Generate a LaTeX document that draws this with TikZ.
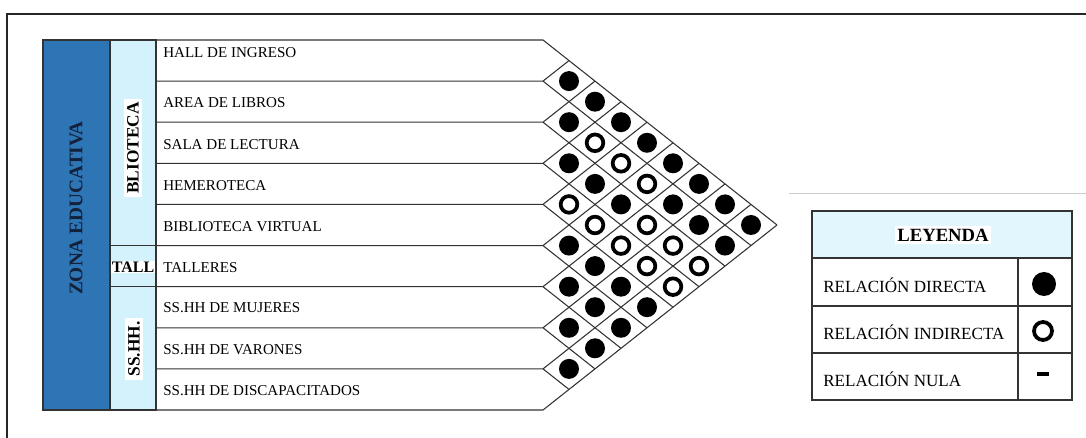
\documentclass[tikz,border=0pt]{standalone}
\usepackage{fontspec}
\setmainfont{Liberation Serif}
\definecolor{zonablue}{HTML}{2E75B6}
\definecolor{grupoblue}{HTML}{D4F2FC}
\definecolor{headblue}{HTML}{E2F6FD}
\definecolor{zonatext}{HTML}{14213A}
\begin{document}
\begin{tikzpicture}[x=0.75pt,y=-0.75pt,
  linea/.style={draw=black!80, line width=0.8pt},
  fila/.style={anchor=west, inner sep=0pt, font=\fontsize{11.3}{13}\selectfont},
  leyfila/.style={anchor=west, inner sep=0pt, font=\fontsize{12.8}{14}\selectfont},
  grupo/.style={fill=white, inner sep=2.5pt, font=\fontsize{13}{15}\selectfont\bfseries},
  directa/.style={circle, fill=black, minimum size=15pt, inner sep=0pt},
  indirecta/.style={circle, draw=black, line width=2.8pt, minimum size=12.5pt, inner sep=0pt}]
\useasboundingbox (0,0) rectangle (1086,438);

% marco
\draw[line width=1.6pt, black!85] (7,438) -- (7,14) -- (1086,14);
\draw[black!20, line width=0.6pt] (789,193) -- (1086,193);

% columnas de zona y grupos
\draw[linea, fill=zonablue] (43,40) rectangle (110,410);
\draw[linea, fill=grupoblue] (110,40) rectangle (156,410);
\node[rotate=90, text=zonatext, font=\fontsize{14.5}{16}\selectfont\bfseries] (zona) at (76,208) {ZONA EDUCATIVA};
\node[grupo, rotate=90] (biblio) at (133,148) {BLIOTECA};
\node[grupo, inner sep=0.5pt, font=\fontsize{12}{14}\selectfont\bfseries] (tall) at (133,267) {TALL};
\node[grupo, rotate=90] (sshh) at (134,349) {SS.HH.};
\draw[linea] (110,245.6) -- (156,245.6);
\draw[linea] (110,286.7) -- (156,286.7);
\draw[linea] (110,40) -- (110,410);

% filas y rejilla
\draw[linea] (156,40) -- (543,40) -- (777,225);
\draw[linea] (156,81.1) -- (543,81.1) -- (751,245.6) (543,81.1) -- (569,60.6);
\draw[linea] (156,122.2) -- (543,122.2) -- (725,266.1) (543,122.2) -- (595,81.1);
\draw[linea] (156,163.3) -- (543,163.3) -- (699,286.7) (543,163.3) -- (621,101.7);
\draw[linea] (156,204.4) -- (543,204.4) -- (673,307.2) (543,204.4) -- (647,122.2);
\draw[linea] (156,245.6) -- (543,245.6) -- (647,327.8) (543,245.6) -- (673,142.8);
\draw[linea] (156,286.7) -- (543,286.7) -- (621,348.3) (543,286.7) -- (699,163.3);
\draw[linea] (156,327.8) -- (543,327.8) -- (595,368.9) (543,327.8) -- (725,183.9);
\draw[linea] (156,368.9) -- (543,368.9) -- (569,389.4) (543,368.9) -- (751,204.4);
\draw[linea] (156,410) -- (543,410) -- (777,225);
\draw[linea] (156,40) -- (156,410);

\node[fila] (hall) at (163,53) {HALL DE INGRESO};
\node[fila] (libros) at (163,103) {AREA DE LIBROS};
\node[fila] (lectura) at (163,145) {SALA DE LECTURA};
\node[fila] (hemeroteca) at (163,186) {HEMEROTECA};
\node[fila] (virtual) at (163,227) {BIBLIOTECA VIRTUAL};
\node[fila] (talleres) at (163,268) {TALLERES};
\node[fila] (mujeres) at (163,308) {SS.HH DE MUJERES};
\node[fila] (varones) at (163,350) {SS.HH DE VARONES};
\node[fila] (discap) at (163,391) {SS.HH DE DISCAPACITADOS};

% relaciones
\node[directa] (c12) at (569,81.1) {};
\node[directa] (c13) at (595,101.7) {};
\node[directa] (c14) at (621,122.2) {};
\node[directa] (c15) at (647,142.8) {};
\node[directa] (c16) at (673,163.3) {};
\node[directa] (c17) at (699,183.9) {};
\node[directa] (c18) at (725,204.4) {};
\node[directa] (c19) at (751,225) {};
\node[directa] (c23) at (569,122.2) {};
\node[indirecta] (c24) at (595,142.8) {};
\node[indirecta] (c25) at (621,163.3) {};
\node[indirecta] (c26) at (647,183.9) {};
\node[directa] (c27) at (673,204.4) {};
\node[directa] (c28) at (699,225) {};
\node[directa] (c29) at (725,245.6) {};
\node[directa] (c34) at (569,163.3) {};
\node[directa] (c35) at (595,183.9) {};
\node[directa] (c36) at (621,204.4) {};
\node[indirecta] (c37) at (647,225) {};
\node[indirecta] (c38) at (673,245.6) {};
\node[indirecta] (c39) at (699,266.1) {};
\node[indirecta] (c45) at (569,204.4) {};
\node[indirecta] (c46) at (595,225) {};
\node[indirecta] (c47) at (621,245.6) {};
\node[indirecta] (c48) at (647,266.1) {};
\node[indirecta] (c49) at (673,286.7) {};
\node[directa] (c56) at (569,245.6) {};
\node[directa] (c57) at (595,266.1) {};
\node[directa] (c58) at (621,286.7) {};
\node[directa] (c59) at (647,307.2) {};
\node[directa] (c67) at (569,286.7) {};
\node[directa] (c68) at (595,307.2) {};
\node[directa] (c69) at (621,327.8) {};
\node[directa] (c78) at (569,327.8) {};
\node[directa] (c79) at (595,348.3) {};
\node[directa] (c89) at (569,368.9) {};

% leyenda
\draw[linea, fill=headblue] (812,211) rectangle (1072,258);
\draw[linea] (812,258) rectangle (1072,400);
\draw[linea] (812,306) -- (1072,306);
\draw[linea] (812,353) -- (1072,353);
\draw[linea] (1018,258) -- (1018,400);
\node[fill=white, inner sep=2pt, font=\fontsize{14}{16}\selectfont\bfseries] (leyenda) at (943,235) {LEYENDA};
\node[leyfila] (ldirecta) at (823,285) {RELACIÓN DIRECTA};
\node[leyfila] (lindirecta) at (823,332) {RELACIÓN INDIRECTA};
\node[leyfila] (lnula) at (823,379) {RELACIÓN NULA};
\node[directa, minimum size=18pt] (sdirecta) at (1044,284) {};
\node[indirecta, minimum size=13.5pt] (sindirecta) at (1043,331) {};
\node[fill=black, minimum width=9pt, minimum height=2.6pt, inner sep=0pt] (snula) at (1043,374) {};
\end{tikzpicture}
\end{document}
